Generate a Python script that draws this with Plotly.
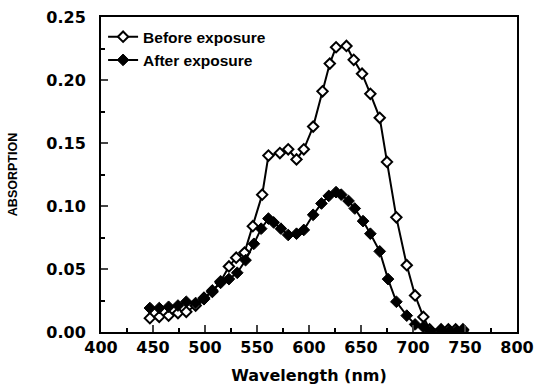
import plotly.graph_objects as go

before_x = [447, 456, 465, 474, 482, 491, 499, 507, 515, 523, 530, 538, 546, 555, 561, 572, 580, 588, 595, 604,
            613, 620, 626, 636, 643, 651, 659, 668, 675, 684, 694, 702, 710, 716, 727, 734, 741, 748]
before_y = [0.011, 0.012, 0.013, 0.015, 0.016, 0.021, 0.027, 0.032, 0.040, 0.052, 0.059, 0.063, 0.084, 0.109,
            0.140, 0.142, 0.145, 0.137, 0.145, 0.163, 0.191, 0.213, 0.226, 0.227, 0.216, 0.205, 0.189, 0.170,
            0.135, 0.091, 0.053, 0.029, 0.012, 0.002, 0.002, 0.002, 0.002, 0.002]

after_x = [447, 456, 465, 474, 482, 491, 499, 507, 515, 523, 531, 539, 547, 554, 561, 566, 573, 580, 588, 595,
           604, 612, 619, 626, 631, 638, 644, 652, 659, 668, 676, 684, 694, 702, 710, 717, 728, 735, 742, 748]
after_y = [0.019, 0.019, 0.020, 0.021, 0.024, 0.023, 0.026, 0.033, 0.039, 0.042, 0.047, 0.057, 0.070, 0.082,
           0.090, 0.087, 0.082, 0.077, 0.078, 0.081, 0.093, 0.102, 0.108, 0.111, 0.109, 0.104, 0.098, 0.088,
           0.078, 0.064, 0.042, 0.024, 0.013, 0.006, 0.004, 0.001, 0.001, 0.001, 0.001, 0.001]

x_ticks = [400, 450, 500, 550, 600, 650, 700, 750, 800]
y_ticks = [0.00, 0.05, 0.10, 0.15, 0.20, 0.25]
y_tick_labels = ["0.00", "0.05", "0.10", "0.15", "0.20", "0.25"]

TICKFONT = "DejaVu Sans"
TEXTFONT = "Liberation Sans"

fig = go.Figure()
fig.add_trace(go.Scatter(
    x=before_x, y=before_y, mode="lines+markers", name="Before exposure",
    line=dict(color="black", width=2),
    marker=dict(symbol="diamond", size=8, color="white", line=dict(color="black", width=2)),
))
fig.add_trace(go.Scatter(
    x=after_x, y=after_y, mode="lines+markers", name="After exposure",
    line=dict(color="black", width=2),
    marker=dict(symbol="diamond", size=9, color="black", line=dict(color="black", width=1)),
))

fig.update_layout(
    width=536, height=391,
    margin=dict(l=101, r=19, t=17, b=59, autoexpand=False),
    paper_bgcolor="white", plot_bgcolor="white",
    font=dict(family=TEXTFONT, color="black", size=15),
    showlegend=True,
    legend=dict(x=0.005, y=0.99, xanchor="left", yanchor="top", bgcolor="rgba(0,0,0,0)",
                font=dict(family=TEXTFONT, size=15.5, color="black", weight="bold"),
                tracegroupgap=0, itemwidth=30),
    xaxis=dict(
        range=[400, 800], tickvals=x_ticks, ticks="inside", ticklen=7, tickwidth=1.5, automargin=False,
        showline=True, linecolor="black", linewidth=2, mirror=True, showgrid=False, zeroline=False,
        tickfont=dict(family=TICKFONT, size=16, weight="bold"), ticklabelstandoff=0,
        minor=dict(dtick=25, ticks="inside", ticklen=4, tickwidth=1.5, tickcolor="black", showgrid=False),
        title=dict(text="Wavelength (nm)", font=dict(family=TICKFONT, size=16, weight="bold"), standoff=14),
    ),
    yaxis=dict(
        range=[0, 0.25], tickvals=y_ticks, ticktext=y_tick_labels, ticks="inside", ticklen=7, tickwidth=1.5,
        automargin=False,
        showline=True, linecolor="black", linewidth=2, mirror=True, showgrid=False, zeroline=False,
        tickfont=dict(family=TICKFONT, size=16, weight="bold"), ticklabelstandoff=10,
        minor=dict(dtick=0.025, ticks="inside", ticklen=4, tickwidth=1.5, tickcolor="black", showgrid=False),
        title=dict(text="ABSORPTION", font=dict(family=TEXTFONT, size=12.5, weight="bold"), standoff=26),
    ),
)

fig.write_html("out.html")
